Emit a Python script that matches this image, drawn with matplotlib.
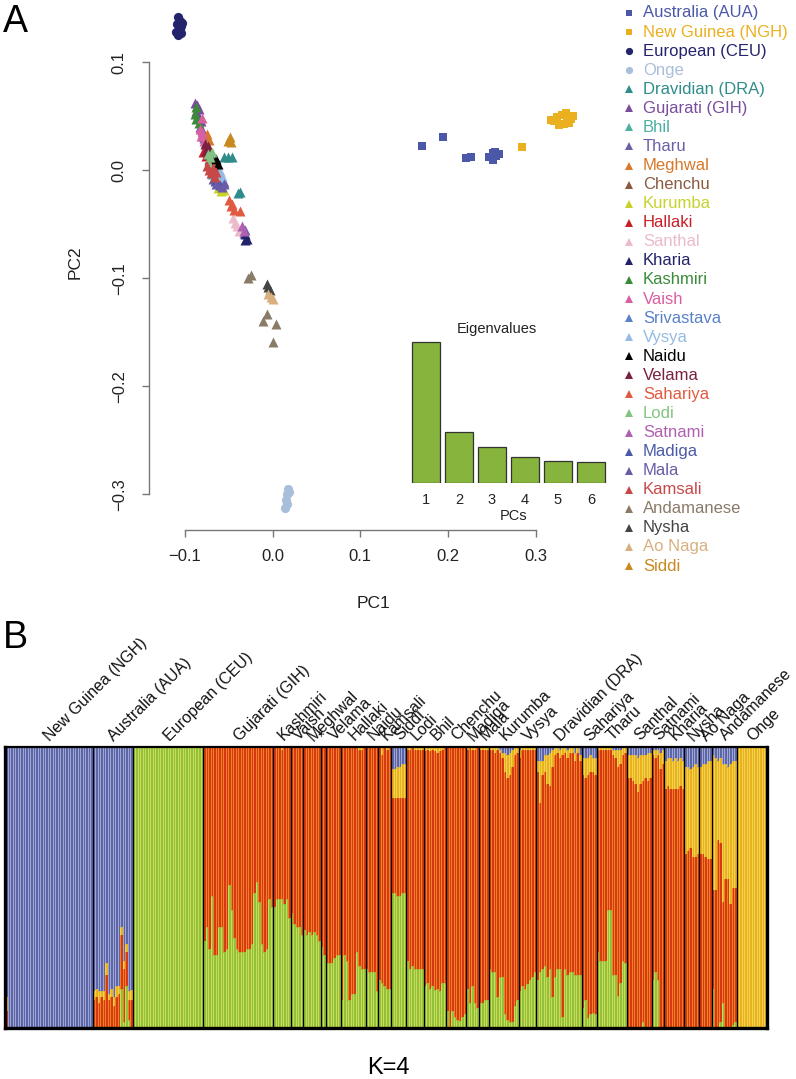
import matplotlib
matplotlib.use("Agg")
import matplotlib.pyplot as plt
from matplotlib.lines import Line2D
import numpy as np

plt.rcParams['font.family'] = ['Liberation Sans', 'DejaVu Sans']

W, H = 796, 1079

# ---------------- PCA data ----------------
legend_names = ["Australia (AUA)", "New Guinea (NGH)", "European (CEU)", "Onge",
                "Dravidian (DRA)", "Gujarati (GIH)", "Bhil", "Tharu", "Meghwal",
                "Chenchu", "Kurumba", "Hallaki", "Santhal", "Kharia", "Kashmiri",
                "Vaish", "Srivastava", "Vysya", "Naidu", "Velama", "Sahariya", "Lodi",
                "Satnami", "Madiga", "Mala", "Kamsali", "Andamanese", "Nysha",
                "Ao Naga", "Siddi"]
legend_colors = ["#4B58A8", "#EBB020", "#23246B", "#A9BEDB", "#2E8C8A", "#7A4C9E",
                 "#4CB0A2", "#6A60A8", "#D8782A", "#8A5A40", "#C8D22A", "#C81E28",
                 "#EBBBCB", "#22226A", "#3A8A3A", "#D860A0", "#5A80C8", "#93BBE3",
                 "#000000", "#7A2040", "#E05A40", "#82C282", "#B060B0", "#4A5AA8",
                 "#6A5AA8", "#C84848", "#8A7A68", "#444444", "#D8B080", "#C88A20"]
legend_markers = ["s", "s", "o", "o"] + ["^"] * 26

pca_x = {
    "Australia (AUA)": [0.170, 0.194, 0.221, 0.226, 0.247, 0.251, 0.252, 0.255, 0.258, 0.254],
    "New Guinea (NGH)": [0.284, 0.318, 0.324, 0.330, 0.336, 0.341, 0.338, 0.332, 0.327, 0.343, 0.321, 0.335],
    "European (CEU)": [-0.108, -0.106, -0.109, -0.105, -0.107, -0.110, -0.104, -0.108, -0.103, -0.106],
    "Onge": [0.018, 0.016, 0.015, 0.017, 0.014, 0.019],
    "Dravidian (DRA)": [-0.056, -0.051, -0.046, -0.040, -0.037],
    "Gujarati (GIH)": [-0.089, -0.086, -0.084, -0.087, -0.085, -0.082, -0.083, -0.080, -0.078, -0.076, -0.079, -0.074, -0.070, -0.068, -0.072, -0.066],
    "Bhil": [-0.066, -0.061, -0.069],
    "Tharu": [-0.068, -0.056, -0.031, -0.033],
    "Meghwal": [-0.075, -0.073, -0.070, -0.066],
    "Chenchu": [-0.065, -0.060],
    "Kurumba": [-0.062, -0.059, -0.056],
    "Hallaki": [-0.079, -0.076, -0.072, -0.070],
    "Santhal": [-0.045, -0.043, -0.041, -0.038],
    "Kharia": [-0.031, -0.029, -0.032],
    "Kashmiri": [-0.087, -0.088, -0.086, -0.084, -0.087],
    "Vaish": [-0.081, -0.083, -0.080, -0.082, -0.078],
    "Srivastava": [-0.062, -0.059],
    "Vysya": [-0.060, -0.058, -0.061],
    "Naidu": [-0.064, -0.062],
    "Velama": [-0.077, -0.074, -0.076, -0.072],
    "Sahariya": [-0.050, -0.048, -0.044, -0.037, -0.046],
    "Lodi": [-0.074, -0.071, -0.069, -0.072],
    "Satnami": [-0.033, -0.035],
    "Madiga": [-0.066, -0.063, -0.060],
    "Mala": [-0.064, -0.058, -0.055],
    "Kamsali": [-0.075, -0.073, -0.070, -0.066, -0.068, -0.064],
    "Andamanese": [-0.028, -0.025, -0.006, -0.011, 0.004, 0.000],
    "Nysha": [-0.006, -0.003, -0.005],
    "Ao Naga": [-0.002, -0.005, 0.001],
    "Siddi": [-0.049, -0.047, -0.051],
}
pca_y = {
    "Australia (AUA)": [0.022, 0.031, 0.011, 0.012, 0.012, 0.016, 0.009, 0.013, 0.015, 0.017],
    "New Guinea (NGH)": [0.021, 0.046, 0.049, 0.051, 0.050, 0.047, 0.044, 0.043, 0.042, 0.050, 0.045, 0.053],
    "European (CEU)": [0.142, 0.138, 0.135, 0.133, 0.130, 0.128, 0.127, 0.125, 0.136, 0.131],
    "Onge": [-0.295, -0.300, -0.305, -0.309, -0.313, -0.298],
    "Dravidian (DRA)": [0.012, 0.012, 0.012, -0.021, -0.020],
    "Gujarati (GIH)": [0.062, 0.060, 0.057, 0.055, 0.050, 0.045, 0.040, 0.037, 0.030, 0.026, 0.032, 0.020, 0.013, 0.005, 0.010, -0.002],
    "Bhil": [0.000, -0.006, -0.004],
    "Tharu": [-0.008, -0.011, -0.055, -0.058],
    "Meghwal": [0.033, 0.028, 0.010, 0.004],
    "Chenchu": [-0.007, -0.011],
    "Kurumba": [-0.017, -0.019, -0.018],
    "Hallaki": [0.017, 0.013, 0.008, 0.004],
    "Santhal": [-0.044, -0.049, -0.052, -0.056],
    "Kharia": [-0.059, -0.064, -0.065],
    "Kashmiri": [0.058, 0.052, 0.048, 0.044, 0.047],
    "Vaish": [0.048, 0.038, 0.035, 0.032, 0.027],
    "Srivastava": [-0.004, -0.010],
    "Vysya": [-0.001, -0.005, -0.008],
    "Naidu": [0.010, 0.006],
    "Velama": [0.024, 0.022, 0.018, 0.015],
    "Sahariya": [-0.028, -0.033, -0.037, -0.038, -0.031],
    "Lodi": [0.015, 0.012, 0.017, 0.006],
    "Satnami": [-0.056, -0.052],
    "Madiga": [-0.010, -0.012, -0.014],
    "Mala": [-0.013, -0.016, -0.013],
    "Kamsali": [0.004, 0.000, -0.003, -0.006, 0.002, -0.002],
    "Andamanese": [-0.100, -0.097, -0.133, -0.140, -0.142, -0.159],
    "Nysha": [-0.105, -0.111, -0.108],
    "Ao Naga": [-0.117, -0.115, -0.119],
    "Siddi": [0.031, 0.026, 0.027],
}

eig_pcs = [1, 2, 3, 4, 5, 6]
eig_values = [14.1, 5.1, 3.6, 2.6, 2.2, 2.1]

# ---------------- ADMIXTURE data (K=4) ----------------
bar_groups = ["NGH", "AUA", "CEU", "GIH", "Kashmiri", "Vaish", "Meghwal", "Star", "Velama",
              "Hallaki", "Naidu", "Kamsali", "Siddi", "Lodi", "Bhil", "Chenchu", "Madiga",
              "Mala", "Kurumba", "Vysya", "DRA", "Sahariya", "Tharu", "Santhal", "Satnami",
              "Kharia", "Nysha", "AoNaga", "Andamanese", "Onge"]
bar_labels = ["New Guinea (NGH)", "Australia (AUA)", "European (CEU)", "Gujarati (GIH)",
              "Kashmiri", "Vaish", "Meghwal", "*", "Velama", "Hallaki", "Naidu", "Kamsali",
              "Siddi", "Lodi", "Bhil", "Chenchu", "Madiga", "Mala", "Kurumba", "Vysya",
              "Dravidian (DRA)", "Sahariya", "Tharu", "Santhal", "Satnami", "Kharia", "Nysha",
              "Ao Naga", "Andamanese", "Onge"]

GREEN = {
    "NGH": [0, 0, 0, 0, 0, 0, 0, 0, 0, 0, 0, 0, 0, 0, 0, 0, 0, 0, 0, 0, 0, 0, 0, 0, 0, 0, 0, 0, 0, 0, 0, 0, 0, 0, 0],
    "AUA": [0, 0, 0, 0, 0, 0, 0, 0, 0, 0, 0, 0.14, 0.02, 0.15, 0.03, 0],
    "CEU": [1, 1, 1, 1, 1, 1, 1, 1, 1, 1, 1, 1, 1, 1, 1, 1, 1, 1, 1, 1, 1, 1, 1, 1, 1, 1, 1, 1],
    "GIH": [0.31, 0.36, 0.28, 0.47, 0.26, 0.26, 0.36, 0.36, 0.27, 0.28, 0.51, 0.42, 0.32, 0.28,
            0.27, 0.27, 0.27, 0.28, 0.28, 0.30, 0.48, 0.52, 0.45, 0.30, 0.27, 0.28, 0.46, 0.43],
    "Kashmiri": [0.43, 0.46, 0.46, 0.46, 0.44, 0.46, 0.39],
    "Vaish": [0.41, 0.37, 0.36, 0.36, 0.33],
    "Meghwal": [0.35, 0.33, 0.34, 0.33, 0.34, 0.33, 0.31],
    "Star": [0.29, 0.26],
    "Velama": [0.23, 0.23, 0.23, 0.25, 0.26, 0.26],
    "Hallaki": [0.10, 0.26, 0.24, 0.10, 0.12, 0.12, 0.27, 0.22, 0.21, 0.21],
    "Naidu": [0.21, 0.20, 0.20, 0.20, 0.13],
    "Kamsali": [0.17, 0.16, 0.15, 0.14, 0.14],
    "Siddi": [0.48, 0.48, 0.47, 0.47, 0.48, 0.48],
    "Lodi": [0.24, 0.21, 0.22, 0.21, 0.21, 0.21, 0.21],
    "Bhil": [0.15, 0.16, 0.14, 0.15, 0.135, 0.14, 0.13, 0.16, 0.16],
    "Chenchu": [0.06, 0.005, 0.06, 0.04, 0.03, 0.025, 0.04, 0.05],
    "Madiga": [0.14, 0.09, 0.15, 0.09, 0.07],
    "Mala": [0.09, 0.09, 0.10, 0.10],
    "Kurumba": [0.21, 0.20, 0.20, 0.11, 0.18, 0.18, 0.05, 0.03, 0.02, 0.02, 0.08, 0.10],
    "Vysya": [0.13, 0.15, 0.14, 0.155, 0.17, 0.18, 0.20],
    "DRA": [0.17, 0.20, 0.21, 0.22, 0.18, 0.21, 0.11, 0.18, 0.21, 0.21, 0.04, 0.21, 0.19, 0.20,
            0.20, 0.19, 0.19, 0.19],
    "Sahariya": [0.07, 0.10, 0.035, 0.05, 0.055, 0.05],
    "Tharu": [0.27, 0.24, 0.24, 0.24, 0.42, 0.42, 0.19, 0.19, 0.115, 0.16, 0.24, 0.23],
    "Santhal": [0, 0, 0, 0, 0, 0, 0.02, 0, 0, 0],
    "Satnami": [0.17, 0.20, 0.17, 0, 0],
    "Kharia": [0, 0, 0, 0, 0, 0, 0, 0],
    "Nysha": [0, 0, 0, 0, 0, 0],
    "AoNaga": [0, 0, 0, 0, 0],
    "Andamanese": [0.14, 0, 0, 0.02, 0.09, 0, 0, 0, 0.01, 0.02],
    "Onge": [0, 0, 0, 0, 0, 0, 0, 0, 0, 0, 0, 0],
}
YELLOW = {
    "NGH": [0.05, 0, 0, 0, 0, 0, 0, 0, 0, 0, 0, 0, 0, 0, 0, 0, 0, 0, 0, 0, 0, 0, 0, 0, 0, 0, 0, 0, 0, 0, 0, 0, 0, 0, 0],
    "AUA": [0.03, 0.03, 0.04, 0.02, 0.03, 0.04, 0.02, 0.03, 0.03, 0.04, 0.03, 0.03, 0.03, 0.03, 0.03, 0.035],
    "CEU": [0, 0, 0, 0, 0, 0, 0, 0, 0, 0, 0, 0, 0, 0, 0, 0, 0, 0, 0, 0, 0, 0, 0, 0, 0, 0, 0, 0],
    "GIH": [0, 0, 0, 0, 0, 0, 0, 0, 0, 0, 0, 0, 0, 0, 0, 0, 0, 0, 0, 0, 0, 0, 0, 0, 0, 0, 0, 0],
    "Kashmiri": [0, 0, 0, 0.01, 0, 0, 0],
    "Vaish": [0, 0, 0, 0, 0],
    "Meghwal": [0, 0, 0, 0, 0, 0, 0],
    "Star": [0, 0],
    "Velama": [0, 0, 0, 0, 0, 0],
    "Hallaki": [0, 0, 0, 0, 0, 0, 0, 0.01, 0.01, 0],
    "Naidu": [0, 0, 0, 0, 0],
    "Kamsali": [0, 0.03, 0, 0.01, 0],
    "Siddi": [0.10, 0.10, 0.11, 0.11, 0.12, 0.12],
    "Lodi": [0.01, 0.01, 0, 0.01, 0.01, 0.01, 0.01],
    "Bhil": [0.015, 0.01, 0.015, 0.01, 0.015, 0.02, 0.015, 0.01, 0],
    "Chenchu": [0, 0, 0, 0, 0, 0, 0, 0],
    "Madiga": [0.01, 0, 0.01, 0.01, 0],
    "Mala": [0.01, 0.01, 0.01, 0.01],
    "Kurumba": [0.01, 0.01, 0.02, 0.01, 0.01, 0.02, 0.07, 0.08, 0.08, 0.06, 0.03, 0.02],
    "Vysya": [0.03, 0.01, 0.01, 0.01, 0.01, 0.01, 0.01],
    "DRA": [0.04, 0.15, 0.05, 0.06, 0.10, 0.12, 0.06, 0.03, 0.02, 0.03, 0.03, 0.02, 0.03, 0.02,
            0.02, 0.03, 0.02, 0.02],
    "Sahariya": [0.06, 0.07, 0.06, 0.06, 0.05, 0.06],
    "Tharu": [0.01, 0.01, 0.01, 0.01, 0.01, 0.01, 0.02, 0.03, 0.06, 0.05, 0.03, 0.02],
    "Santhal": [0.08, 0.08, 0.09, 0.10, 0.12, 0.10, 0.09, 0.08, 0.10, 0.09],
    "Satnami": [0.02, 0.03, 0.02, 0.06, 0.05],
    "Kharia": [0.10, 0.10, 0.11, 0.10, 0.11, 0.10, 0.10, 0.10],
    "Nysha": [0.31, 0.30, 0.28, 0.32, 0.33, 0.31],
    "AoNaga": [0.31, 0.32, 0.33, 0.35, 0.35],
    "Andamanese": [0.48, 0.47, 0.28, 0.30, 0.49, 0.41, 0.40, 0.50, 0.45, 0.45],
    "Onge": [1, 1, 1, 1, 1, 1, 1, 1, 1, 1, 1, 1],
}
BLUE = {
    "NGH": [0.89, 1, 1, 1, 1, 1, 1, 1, 1, 1, 1, 1, 1, 1, 1, 1, 1, 1, 1, 1, 1, 1, 1, 1, 1, 1, 1, 1, 1, 1, 1, 1, 1, 1, 1],
    "AUA": [0.87, 0.86, 0.87, 0.87, 0.87, 0.77, 0.88, 0.86, 0.89, 0.85, 0.85, 0.64, 0.76, 0.70, 0.87, 0.865],
    "CEU": [0, 0, 0, 0, 0, 0, 0, 0, 0, 0, 0, 0, 0, 0, 0, 0, 0, 0, 0, 0, 0, 0, 0, 0, 0, 0, 0, 0],
    "GIH": [0, 0, 0, 0, 0, 0, 0, 0, 0, 0, 0, 0, 0, 0, 0, 0, 0, 0, 0, 0, 0, 0, 0, 0, 0, 0, 0, 0],
    "Kashmiri": [0, 0, 0, 0, 0, 0, 0],
    "Vaish": [0, 0, 0, 0, 0],
    "Meghwal": [0, 0, 0, 0, 0, 0, 0],
    "Star": [0, 0],
    "Velama": [0, 0, 0, 0, 0, 0],
    "Hallaki": [0, 0, 0, 0, 0, 0, 0, 0, 0, 0],
    "Naidu": [0, 0, 0, 0, 0],
    "Kamsali": [0, 0, 0, 0, 0],
    "Siddi": [0.08, 0.08, 0.07, 0.07, 0.06, 0.06],
    "Lodi": [0, 0, 0, 0, 0, 0, 0],
    "Bhil": [0, 0, 0, 0, 0, 0, 0, 0, 0],
    "Chenchu": [0, 0, 0, 0, 0, 0, 0, 0],
    "Madiga": [0, 0, 0, 0, 0],
    "Mala": [0, 0, 0, 0],
    "Kurumba": [0, 0, 0, 0, 0.01, 0.02, 0.02, 0.03, 0.02, 0.01, 0, 0],
    "Vysya": [0.01, 0, 0, 0, 0, 0, 0],
    "DRA": [0.05, 0.05, 0.05, 0.03, 0.03, 0.02, 0.01, 0, 0, 0.01, 0, 0, 0.01, 0, 0, 0.02, 0, 0.03],
    "Sahariya": [0.04, 0.04, 0.04, 0.03, 0.04, 0.04],
    "Tharu": [0, 0, 0, 0, 0, 0, 0.01, 0.01, 0.01, 0.01, 0, 0],
    "Santhal": [0.03, 0.03, 0.03, 0.03, 0.04, 0.03, 0.03, 0.03, 0.02, 0.02],
    "Satnami": [0.01, 0.01, 0.01, 0.02, 0.01],
    "Kharia": [0.05, 0.04, 0.04, 0.05, 0.04, 0.05, 0.04, 0.05],
    "Nysha": [0.07, 0.07, 0.08, 0.07, 0.06, 0.07],
    "AoNaga": [0.07, 0.06, 0.06, 0.05, 0.05],
    "Andamanese": [0.03, 0.04, 0.05, 0.04, 0.06, 0.06, 0.07, 0.06, 0.05, 0.05],
    "Onge": [0, 0, 0, 0, 0, 0, 0, 0, 0, 0, 0, 0],
}

# component colours: (fill, stripe)
C_GREEN = ("#93C03A", "#CADD58")
C_RED = ("#D63A12", "#F28428")
C_YELLOW = ("#E8B21C", "#F5D255")
C_BLUE = ("#5C65A6", "#A3A9D6")

fig = plt.figure(figsize=(W / 100, H / 100), dpi=100)
fig.patch.set_facecolor("white")


def fx(px):
    return px / W


def fy(py):
    return 1 - py / H


# ---------------- Panel A: PCA ----------------
ax = fig.add_axes([fx(149), fy(530), 440 / W, 522 / H])
ax.set_xlim(-0.141, 0.361)
ax.set_ylim(-0.333, 0.150)
sizes = {"s": 34, "o": 44, "^": 52}
for name, col, mk in zip(legend_names, legend_colors, legend_markers):
    ax.scatter(pca_x[name], pca_y[name], marker=mk, s=sizes[mk], c=col,
               linewidths=0, zorder=3)
for side in ("top", "right"):
    ax.spines[side].set_visible(False)
ax.spines["left"].set_bounds(-0.3, 0.1)
ax.spines["bottom"].set_bounds(-0.1, 0.3)
for side in ("left", "bottom"):
    ax.spines[side].set_color("#777777")
    ax.spines[side].set_linewidth(1.0)
ax.set_xticks([-0.1, 0.0, 0.1, 0.2, 0.3])
ax.set_xticklabels(["\u22120.1", "0.0", "0.1", "0.2", "0.3"])
ax.set_yticks([-0.3, -0.2, -0.1, 0.0, 0.1])
ax.set_yticklabels(["\u22120.3", "\u22120.2", "\u22120.1", "0.0", "0.1"],
                   rotation=90, va="center")
ax.tick_params(axis="both", direction="out", length=5, width=1.0, color="#777777",
               labelsize=12, labelcolor="#222222")
ax.tick_params(axis="x", pad=9)
ax.tick_params(axis="y", pad=11)
ax.patch.set_alpha(0)
fig.text(fx(75), fy(262), "PC2", rotation=90, ha="center", va="center", fontsize=12.5,
         color="#222222")
fig.text(fx(374), fy(603), "PC1", ha="center", va="center", fontsize=12.5, color="#222222")

# inset eigenvalues
axi = fig.add_axes([fx(409.5), fy(483), 198 / W, 163 / H])
axi.set_xlim(0.5, 6.5)
axi.set_ylim(0, 16.3)
axi.bar(eig_pcs, eig_values, width=0.85, color="#86B43C", edgecolor="#333333",
        linewidth=0.9)
axi.axis("off")
for p in eig_pcs:
    axi.text(p, -1.7, str(p), ha="center", va="center", fontsize=10.5, color="#222222",
             clip_on=False)
axi.text(3.64, -3.3, "PCs", ha="center", va="center", fontsize=10.5, color="#222222",
         clip_on=False)
axi.text(3.15, 15.4, "Eigenvalues", ha="center", va="center", fontsize=10.5,
         color="#222222", clip_on=False)

# legend (manual)
for i, (name, col, mk) in enumerate(zip(legend_names, legend_colors, legend_markers)):
    yy = 13 + i * 19.07
    ms = {"s": 5.0, "o": 5.2, "^": 5.6}[mk]
    fig.add_artist(Line2D([fx(629)], [fy(yy)], transform=fig.transFigure, marker=mk,
                          markersize=ms, color=col, markeredgewidth=0, linestyle="none"))
    fig.text(fx(643), fy(yy), name, ha="left", va="center", fontsize=12, color=col)

fig.text(fx(3), fy(22), "A", ha="left", va="center", fontsize=27)
fig.text(fx(3), fy(638), "B", ha="left", va="center", fontsize=27)

# ---------------- Panel B: ADMIXTURE ----------------
ax2 = fig.add_axes([fx(5), fy(1028), 762 / W, 281 / H])
g_all, y_all, b_all, bounds, centers = [], [], [], [0], []
for grp in bar_groups:
    g_all += GREEN[grp]
    y_all += YELLOW[grp]
    b_all += BLUE[grp]
    centers.append(bounds[-1] + len(GREEN[grp]) / 2)
    bounds.append(bounds[-1] + len(GREEN[grp]))
g_all = np.array(g_all, float)
y_all = np.array(y_all, float)
b_all = np.array(b_all, float)
r_all = np.clip(1 - g_all - y_all - b_all, 0, None)
n = len(g_all)
xs = np.arange(n) + 0.5
bottom = np.zeros(n)
for vals, (fill, stripe) in [(g_all, C_GREEN), (r_all, C_RED), (y_all, C_YELLOW),
                             (b_all, C_BLUE)]:
    ax2.bar(xs, vals, bottom=bottom, width=1.0, color=fill, linewidth=0)
    m = vals > 0.004
    ax2.vlines(xs[m] - 0.5, bottom[m], (bottom + vals)[m], color=stripe, linewidth=0.7)
    bottom = bottom + vals
for bnd in bounds[1:-1]:
    ax2.axvline(bnd, color="black", linewidth=0.9)
ax2.set_xlim(0, n)
ax2.set_ylim(0, 1)
ax2.set_xticks([])
ax2.set_yticks([])
for side in ax2.spines:
    ax2.spines[side].set_linewidth(2.4)
    ax2.spines[side].set_color("black")
ax2.spines["top"].set_linewidth(1.6)
label_shift = 0.6  # in bar units
for c, lab in zip(centers, bar_labels):
    ax2.text(c + label_shift, 1.02, lab, transform=ax2.get_xaxis_transform(), rotation=45,
             rotation_mode="anchor", ha="left", va="baseline", fontsize=11.5,
             color="#111111")

fig.text(fx(388), fy(1068), "K=4", ha="center", va="center", fontsize=17)

fig.savefig("out.png", dpi=100, facecolor="white")
